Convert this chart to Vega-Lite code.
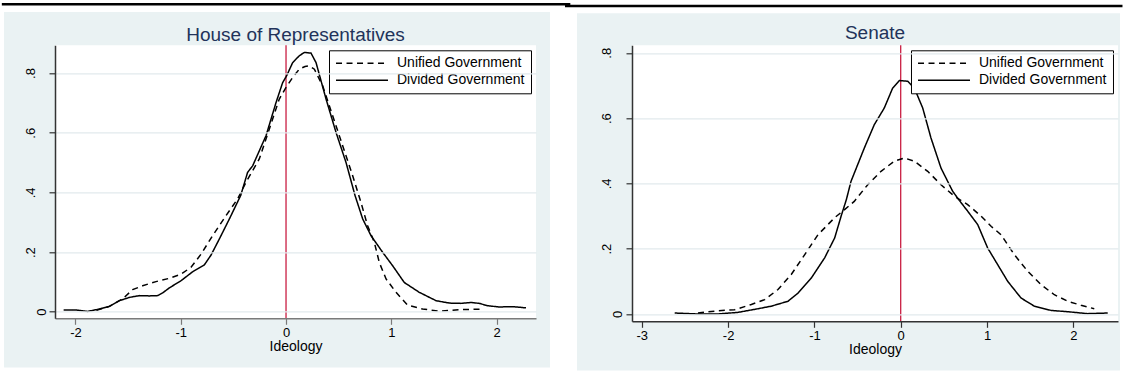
{
  "$schema": "https://vega.github.io/schema/vega-lite/v6.json",
  "background": "white",
  "autosize": {"type": "pad"},
  "padding": {"left": 0, "top": 2.3, "right": 0, "bottom": 0},
  "spacing": -9,
  "resolve": {"scale": {"strokeDash": "independent"}, "legend": {"strokeDash": "independent"}},
  "config": {
    "view": {"stroke": null},
    "font": "Liberation Sans",
    "title": {"font": "Liberation Sans", "fontSize": 19, "fontWeight": "normal", "color": "#22335a", "frame": "group", "anchor": "middle", "baseline": "alphabetic"},
    "axis": {"labelFont": "Liberation Sans", "titleFont": "Liberation Sans", "labelFontSize": 13, "titleFontSize": 14, "titleFontWeight": "normal", "labelColor": "#000", "titleColor": "#000", "domainColor": "#333", "domainWidth": 1.5, "tickColor": "#333", "tickWidth": 1.2, "tickSize": 6, "gridColor": "#e2eaed", "gridWidth": 1.3, "labelFlush": false, "labelOverlap": false},
    "axisX": {"labelPadding": 2, "titlePadding": 0, "grid": false},
    "axisY": {"labelAngle": 270, "grid": true},
    "legend": {"padding": 6, "strokeColor": "#000", "fillColor": "#fff", "labelFont": "Liberation Sans", "labelFontSize": 14, "labelColor": "#000", "symbolType": "M-5,0H5", "symbolSize": 108, "symbolStrokeWidth": 1.5, "symbolStrokeColor": "#000", "symbolOffset": 20, "labelOffset": 28, "rowPadding": 3, "labelLimit": 0}
  },
  "datasets": {
    "house": [
      {"ideology": -2.112, "density": 0.006, "government": "Divided Government"},
      {"ideology": -1.994, "density": 0.006, "government": "Divided Government"},
      {"ideology": -1.884, "density": 0.001, "government": "Divided Government"},
      {"ideology": -1.773, "density": 0.009, "government": "Divided Government"},
      {"ideology": -1.678, "density": 0.018, "government": "Divided Government"},
      {"ideology": -1.583, "density": 0.037, "government": "Divided Government"},
      {"ideology": -1.488, "density": 0.048, "government": "Divided Government"},
      {"ideology": -1.393, "density": 0.054, "government": "Divided Government"},
      {"ideology": -1.298, "density": 0.053, "government": "Divided Government"},
      {"ideology": -1.219, "density": 0.054, "government": "Divided Government"},
      {"ideology": -1.172, "density": 0.063, "government": "Divided Government"},
      {"ideology": -1.108, "density": 0.080, "government": "Divided Government"},
      {"ideology": -0.997, "density": 0.104, "government": "Divided Government"},
      {"ideology": -0.887, "density": 0.134, "government": "Divided Government"},
      {"ideology": -0.776, "density": 0.157, "government": "Divided Government"},
      {"ideology": -0.712, "density": 0.190, "government": "Divided Government"},
      {"ideology": -0.633, "density": 0.244, "government": "Divided Government"},
      {"ideology": -0.538, "density": 0.311, "government": "Divided Government"},
      {"ideology": -0.430, "density": 0.390, "government": "Divided Government"},
      {"ideology": -0.365, "density": 0.467, "government": "Divided Government"},
      {"ideology": -0.317, "density": 0.489, "government": "Divided Government"},
      {"ideology": -0.190, "density": 0.590, "government": "Divided Government"},
      {"ideology": -0.095, "density": 0.701, "government": "Divided Government"},
      {"ideology": -0.032, "density": 0.768, "government": "Divided Government"},
      {"ideology": 0.006, "density": 0.791, "government": "Divided Government"},
      {"ideology": 0.063, "density": 0.835, "government": "Divided Government"},
      {"ideology": 0.126, "density": 0.858, "government": "Divided Government"},
      {"ideology": 0.174, "density": 0.869, "government": "Divided Government"},
      {"ideology": 0.237, "density": 0.867, "government": "Divided Government"},
      {"ideology": 0.285, "density": 0.835, "government": "Divided Government"},
      {"ideology": 0.380, "density": 0.713, "government": "Divided Government"},
      {"ideology": 0.475, "density": 0.601, "government": "Divided Government"},
      {"ideology": 0.570, "density": 0.500, "government": "Divided Government"},
      {"ideology": 0.655, "density": 0.390, "government": "Divided Government"},
      {"ideology": 0.728, "density": 0.311, "government": "Divided Government"},
      {"ideology": 0.807, "density": 0.255, "government": "Divided Government"},
      {"ideology": 0.918, "density": 0.199, "government": "Divided Government"},
      {"ideology": 1.013, "density": 0.154, "government": "Divided Government"},
      {"ideology": 1.123, "density": 0.098, "government": "Divided Government"},
      {"ideology": 1.266, "density": 0.065, "government": "Divided Government"},
      {"ideology": 1.425, "density": 0.037, "government": "Divided Government"},
      {"ideology": 1.551, "density": 0.029, "government": "Divided Government"},
      {"ideology": 1.662, "density": 0.028, "government": "Divided Government"},
      {"ideology": 1.757, "density": 0.031, "government": "Divided Government"},
      {"ideology": 1.836, "density": 0.028, "government": "Divided Government"},
      {"ideology": 1.915, "density": 0.020, "government": "Divided Government"},
      {"ideology": 2.026, "density": 0.016, "government": "Divided Government"},
      {"ideology": 2.152, "density": 0.017, "government": "Divided Government"},
      {"ideology": 2.279, "density": 0.013, "government": "Divided Government"},
      {"ideology": -1.800, "density": 0.005, "government": "Unified Government"},
      {"ideology": -1.678, "density": 0.018, "government": "Unified Government"},
      {"ideology": -1.552, "density": 0.043, "government": "Unified Government"},
      {"ideology": -1.457, "density": 0.074, "government": "Unified Government"},
      {"ideology": -1.362, "density": 0.087, "government": "Unified Government"},
      {"ideology": -1.235, "density": 0.101, "government": "Unified Government"},
      {"ideology": -1.108, "density": 0.112, "government": "Unified Government"},
      {"ideology": -0.997, "density": 0.126, "government": "Unified Government"},
      {"ideology": -0.902, "density": 0.149, "government": "Unified Government"},
      {"ideology": -0.807, "density": 0.193, "government": "Unified Government"},
      {"ideology": -0.697, "density": 0.255, "government": "Unified Government"},
      {"ideology": -0.570, "density": 0.322, "government": "Unified Government"},
      {"ideology": -0.460, "density": 0.378, "government": "Unified Government"},
      {"ideology": -0.380, "density": 0.434, "government": "Unified Government"},
      {"ideology": -0.254, "density": 0.512, "government": "Unified Government"},
      {"ideology": -0.159, "density": 0.612, "government": "Unified Government"},
      {"ideology": -0.064, "density": 0.713, "government": "Unified Government"},
      {"ideology": 0.000, "density": 0.752, "government": "Unified Government"},
      {"ideology": 0.063, "density": 0.785, "government": "Unified Government"},
      {"ideology": 0.126, "density": 0.813, "government": "Unified Government"},
      {"ideology": 0.180, "density": 0.822, "government": "Unified Government"},
      {"ideology": 0.221, "density": 0.824, "government": "Unified Government"},
      {"ideology": 0.269, "density": 0.813, "government": "Unified Government"},
      {"ideology": 0.348, "density": 0.757, "government": "Unified Government"},
      {"ideology": 0.443, "density": 0.657, "government": "Unified Government"},
      {"ideology": 0.538, "density": 0.556, "government": "Unified Government"},
      {"ideology": 0.633, "density": 0.456, "government": "Unified Government"},
      {"ideology": 0.712, "density": 0.366, "government": "Unified Government"},
      {"ideology": 0.775, "density": 0.288, "government": "Unified Government"},
      {"ideology": 0.839, "density": 0.232, "government": "Unified Government"},
      {"ideology": 0.886, "density": 0.165, "government": "Unified Government"},
      {"ideology": 0.950, "density": 0.110, "government": "Unified Government"},
      {"ideology": 1.045, "density": 0.065, "government": "Unified Government"},
      {"ideology": 1.155, "density": 0.022, "government": "Unified Government"},
      {"ideology": 1.297, "density": 0.009, "government": "Unified Government"},
      {"ideology": 1.456, "density": 0.002, "government": "Unified Government"},
      {"ideology": 1.646, "density": 0.007, "government": "Unified Government"},
      {"ideology": 1.867, "density": 0.009, "government": "Unified Government"}
    ],
    "senate": [
      {"ideology": -2.619, "density": 0.003, "government": "Divided Government"},
      {"ideology": -2.349, "density": 0.000, "government": "Divided Government"},
      {"ideology": -2.117, "density": 0.000, "government": "Divided Government"},
      {"ideology": -1.885, "density": 0.005, "government": "Divided Government"},
      {"ideology": -1.654, "density": 0.016, "government": "Divided Government"},
      {"ideology": -1.499, "density": 0.024, "government": "Divided Government"},
      {"ideology": -1.306, "density": 0.039, "government": "Divided Government"},
      {"ideology": -1.190, "density": 0.064, "government": "Divided Government"},
      {"ideology": -1.036, "density": 0.110, "government": "Divided Government"},
      {"ideology": -0.881, "density": 0.172, "government": "Divided Government"},
      {"ideology": -0.765, "density": 0.233, "government": "Divided Government"},
      {"ideology": -0.690, "density": 0.300, "government": "Divided Government"},
      {"ideology": -0.630, "density": 0.350, "government": "Divided Government"},
      {"ideology": -0.576, "density": 0.406, "government": "Divided Government"},
      {"ideology": -0.422, "density": 0.508, "government": "Divided Government"},
      {"ideology": -0.306, "density": 0.580, "government": "Divided Government"},
      {"ideology": -0.190, "density": 0.631, "government": "Divided Government"},
      {"ideology": -0.093, "density": 0.692, "government": "Divided Government"},
      {"ideology": -0.016, "density": 0.715, "government": "Divided Government"},
      {"ideology": 0.081, "density": 0.713, "government": "Divided Government"},
      {"ideology": 0.158, "density": 0.692, "government": "Divided Government"},
      {"ideology": 0.255, "density": 0.631, "government": "Divided Government"},
      {"ideology": 0.351, "density": 0.539, "government": "Divided Government"},
      {"ideology": 0.467, "density": 0.447, "government": "Divided Government"},
      {"ideology": 0.602, "density": 0.376, "government": "Divided Government"},
      {"ideology": 0.679, "density": 0.348, "government": "Divided Government"},
      {"ideology": 0.776, "density": 0.315, "government": "Divided Government"},
      {"ideology": 0.892, "density": 0.274, "government": "Divided Government"},
      {"ideology": 1.008, "density": 0.202, "government": "Divided Government"},
      {"ideology": 1.124, "density": 0.151, "government": "Divided Government"},
      {"ideology": 1.240, "density": 0.100, "government": "Divided Government"},
      {"ideology": 1.394, "density": 0.049, "government": "Divided Government"},
      {"ideology": 1.548, "density": 0.024, "government": "Divided Government"},
      {"ideology": 1.742, "density": 0.011, "government": "Divided Government"},
      {"ideology": 1.973, "density": 0.006, "government": "Divided Government"},
      {"ideology": 2.167, "density": 0.001, "government": "Divided Government"},
      {"ideology": 2.399, "density": 0.003, "government": "Divided Government"},
      {"ideology": -2.349, "density": 0.003, "government": "Unified Government"},
      {"ideology": -2.117, "density": 0.010, "government": "Unified Government"},
      {"ideology": -1.924, "density": 0.013, "government": "Unified Government"},
      {"ideology": -1.731, "density": 0.029, "government": "Unified Government"},
      {"ideology": -1.576, "density": 0.044, "government": "Unified Government"},
      {"ideology": -1.422, "density": 0.075, "government": "Unified Government"},
      {"ideology": -1.268, "density": 0.121, "government": "Unified Government"},
      {"ideology": -1.112, "density": 0.182, "government": "Unified Government"},
      {"ideology": -0.958, "density": 0.243, "government": "Unified Government"},
      {"ideology": -0.765, "density": 0.295, "government": "Unified Government"},
      {"ideology": -0.640, "density": 0.322, "government": "Unified Government"},
      {"ideology": -0.538, "density": 0.345, "government": "Unified Government"},
      {"ideology": -0.382, "density": 0.396, "government": "Unified Government"},
      {"ideology": -0.228, "density": 0.437, "government": "Unified Government"},
      {"ideology": -0.074, "density": 0.468, "government": "Unified Government"},
      {"ideology": 0.042, "density": 0.478, "government": "Unified Government"},
      {"ideology": 0.158, "density": 0.468, "government": "Unified Government"},
      {"ideology": 0.313, "density": 0.437, "government": "Unified Government"},
      {"ideology": 0.467, "density": 0.396, "government": "Unified Government"},
      {"ideology": 0.621, "density": 0.361, "government": "Unified Government"},
      {"ideology": 0.776, "density": 0.335, "government": "Unified Government"},
      {"ideology": 0.930, "density": 0.300, "government": "Unified Government"},
      {"ideology": 1.050, "density": 0.268, "government": "Unified Government"},
      {"ideology": 1.162, "density": 0.243, "government": "Unified Government"},
      {"ideology": 1.316, "density": 0.182, "government": "Unified Government"},
      {"ideology": 1.471, "density": 0.131, "government": "Unified Government"},
      {"ideology": 1.626, "density": 0.090, "government": "Unified Government"},
      {"ideology": 1.780, "density": 0.059, "government": "Unified Government"},
      {"ideology": 1.935, "density": 0.039, "government": "Unified Government"},
      {"ideology": 2.089, "density": 0.027, "government": "Unified Government"},
      {"ideology": 2.243, "density": 0.016, "government": "Unified Government"}
    ]
  },
  "hconcat": [
    {
      "width": 481,
      "height": 273,
      "title": {"text": "House of Representatives", "offset": -42.4},
      "layer": [
        {
          "data": {"values": [{}]},
          "mark": {"type": "rect", "fill": "#eaf2f3"},
          "encoding": {
            "x": {"datum": -2.678, "type": "quantitative", "scale": {"domain": [-2.194, 2.374], "nice": false, "zero": false},
                  "axis": {"zindex": 1, "values": [-2, -1, 0, 1, 2], "title": "Ideology", "labelExpr": "'' + datum.value", "domainColor": "#7a7a7a", "tickColor": "#7a7a7a"}},
            "x2": {"datum": 2.507},
            "y": {"datum": 1.005, "type": "quantitative", "scale": {"domain": [-0.022, 0.893], "nice": false, "zero": false},
                  "axis": {"zindex": 1, "values": [0, 0.2, 0.4, 0.6, 0.8], "title": null, "labelExpr": "datum.value == 0 ? '0' : replace(format(datum.value, '.1f'), '0.', '.')", "labelPadding": {"condition": {"test": "datum.value == 0", "value": 1}, "value": 12}}},
            "y2": {"datum": -0.187}
          }
        },
        {
          "data": {"values": [{}]},
          "mark": {"type": "rect", "fill": "#ffffff"},
          "encoding": {
            "x": {"datum": -2.194, "type": "quantitative", "scale": {"domain": [-2.194, 2.374], "nice": false, "zero": false}},
            "x2": {"datum": 2.374},
            "y": {"datum": 0.893, "type": "quantitative", "scale": {"domain": [-0.022, 0.893], "nice": false, "zero": false}},
            "y2": {"datum": -0.022}
          }
        },
        {
          "data": {"values": [{}]},
          "mark": {"type": "rule", "stroke": "#000", "strokeWidth": 2.5},
          "encoding": {
            "x": {"datum": -2.699, "type": "quantitative", "scale": {"domain": [-2.194, 2.374], "nice": false, "zero": false}},
            "x2": {"datum": 2.700},
            "y": {"datum": 1.031, "type": "quantitative", "scale": {"domain": [-0.022, 0.893], "nice": false, "zero": false}}
          }
        },
        {
          "data": {"values": [{"ideology": 0}]},
          "mark": {"type": "rule", "stroke": "#c91d42", "strokeWidth": 1.3},
          "encoding": {
            "x": {"field": "ideology", "type": "quantitative", "scale": {"domain": [-2.194, 2.374], "nice": false, "zero": false}}
          }
        },
        {
          "data": {"name": "house"},
          "mark": {"type": "line", "stroke": "#000", "strokeWidth": 1.5},
          "encoding": {
            "x": {"field": "ideology", "type": "quantitative", "scale": {"domain": [-2.194, 2.374], "nice": false, "zero": false},
                  "axis": {"zindex": 1, "values": [-2, -1, 0, 1, 2], "title": "Ideology", "labelExpr": "'' + datum.value", "domainColor": "#7a7a7a", "tickColor": "#7a7a7a"}},
            "y": {"field": "density", "type": "quantitative", "scale": {"domain": [-0.022, 0.893], "nice": false, "zero": false},
                  "axis": {"zindex": 1, "values": [0, 0.2, 0.4, 0.6, 0.8], "title": null, "labelExpr": "datum.value == 0 ? '0' : replace(format(datum.value, '.1f'), '0.', '.')", "labelPadding": {"condition": {"test": "datum.value == 0", "value": 1}, "value": 12}}},
            "strokeDash": {"field": "government", "type": "nominal", "scale": {"domain": ["Unified Government", "Divided Government"], "range": [[6, 4.5], [1, 0]]}, "legend": {"title": null, "orient": "top-right", "offset": 5}}
          }
        }
      ]
    },
    {
      "width": 486,
      "height": 276,
      "title": {"text": "Senate", "offset": -38},
      "layer": [
        {
          "data": {"values": [{}]},
          "mark": {"type": "rect", "fill": "#eaf2f3"},
          "encoding": {
            "x": {"datum": -3.751, "type": "quantitative", "scale": {"domain": [-3.1136, 2.518], "nice": false, "zero": false},
                  "axis": {"zindex": 1, "values": [-3, -2, -1, 0, 1, 2], "title": "Ideology", "labelExpr": "'' + datum.value"}},
            "x2": {"datum": 2.541},
            "y": {"datum": 0.921, "type": "quantitative", "scale": {"domain": [-0.0224, 0.823], "nice": false, "zero": false},
                  "axis": {"zindex": 1, "values": [0, 0.2, 0.4, 0.6, 0.8], "title": null, "labelExpr": "datum.value == 0 ? '0' : replace(format(datum.value, '.1f'), '0.', '.')", "labelPadding": {"condition": {"test": "datum.value == 0", "value": 1}, "value": 12}}},
            "y2": {"datum": -0.1734}
          }
        },
        {
          "data": {"values": [{}]},
          "mark": {"type": "rect", "fill": "#ffffff"},
          "encoding": {
            "x": {"datum": -3.1136, "type": "quantitative", "scale": {"domain": [-3.1136, 2.518], "nice": false, "zero": false}},
            "x2": {"datum": 2.518},
            "y": {"datum": 0.823, "type": "quantitative", "scale": {"domain": [-0.0224, 0.823], "nice": false, "zero": false}},
            "y2": {"datum": -0.0224}
          }
        },
        {
          "data": {"values": [{}]},
          "mark": {"type": "rule", "stroke": "#000", "strokeWidth": 2.5},
          "encoding": {
            "x": {"datum": -3.890, "type": "quantitative", "scale": {"domain": [-3.1136, 2.518], "nice": false, "zero": false}},
            "x2": {"datum": 2.570},
            "y": {"datum": 0.943, "type": "quantitative", "scale": {"domain": [-0.0224, 0.823], "nice": false, "zero": false}}
          }
        },
        {
          "data": {"values": [{"ideology": 0}]},
          "mark": {"type": "rule", "stroke": "#c91d42", "strokeWidth": 1.3},
          "encoding": {
            "x": {"field": "ideology", "type": "quantitative", "scale": {"domain": [-3.1136, 2.518], "nice": false, "zero": false}}
          }
        },
        {
          "data": {"name": "senate"},
          "mark": {"type": "line", "stroke": "#000", "strokeWidth": 1.5},
          "encoding": {
            "x": {"field": "ideology", "type": "quantitative", "scale": {"domain": [-3.1136, 2.518], "nice": false, "zero": false},
                  "axis": {"zindex": 1, "values": [-3, -2, -1, 0, 1, 2], "title": "Ideology", "labelExpr": "'' + datum.value"}},
            "y": {"field": "density", "type": "quantitative", "scale": {"domain": [-0.0224, 0.823], "nice": false, "zero": false},
                  "axis": {"zindex": 1, "values": [0, 0.2, 0.4, 0.6, 0.8], "title": null, "labelExpr": "datum.value == 0 ? '0' : replace(format(datum.value, '.1f'), '0.', '.')", "labelPadding": {"condition": {"test": "datum.value == 0", "value": 1}, "value": 12}}},
            "strokeDash": {"field": "government", "type": "nominal", "scale": {"domain": ["Unified Government", "Divided Government"], "range": [[6, 4.5], [1, 0]]}, "legend": {"title": null, "orient": "top-right", "offset": 5}}
          }
        }
      ]
    }
  ]
}
